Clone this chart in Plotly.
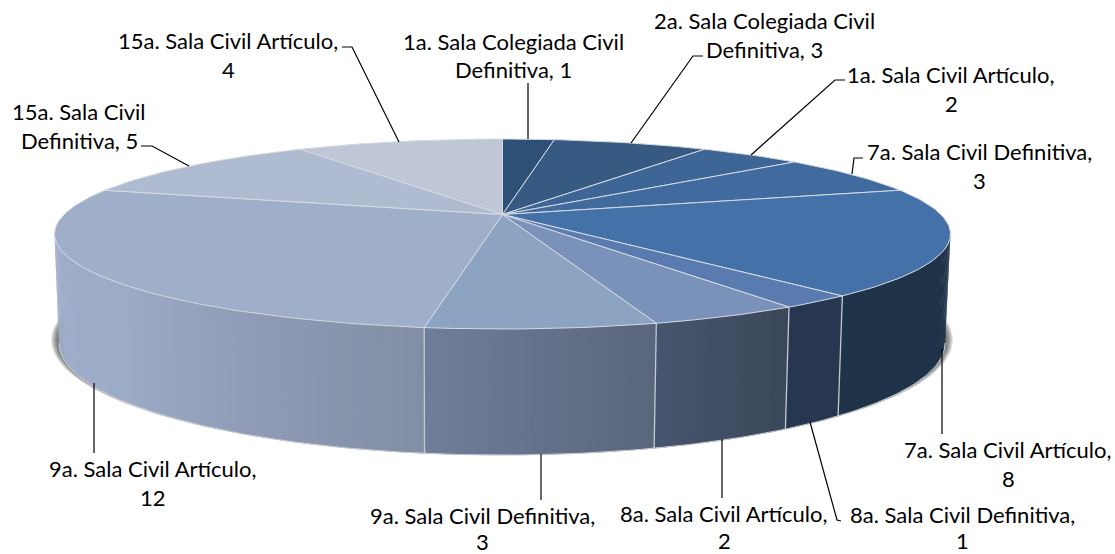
import math
import plotly.graph_objects as go

# ---- data ----
categories = ["1a. Sala Colegiada Civil Definitiva", "2a. Sala Colegiada Civil Definitiva",
              "1a. Sala Civil Artículo", "7a. Sala Civil Definitiva", "7a. Sala Civil Artículo",
              "8a. Sala Civil Definitiva", "8a. Sala Civil Artículo", "9a. Sala Civil Definitiva",
              "9a. Sala Civil Artículo", "15a. Sala Civil Definitiva", "15a. Sala Civil Artículo"]
values = [1, 3, 2, 3, 8, 1, 2, 3, 12, 5, 4]

top_colors = ["#2E5077", "#375A83", "#3D6595", "#416B9E", "#4472A8", "#5A7BB0",
              "#7A92BA", "#8DA3C2", "#9FAFCA", "#AFBBD0", "#BFC7D6"]
# wall shading stops, along each slice in clockwise order
wall_stops = [["#1C2F45"], ["#1C2F45"], ["#1C2F45"], ["#1E3349"], ["#1F3449"], ["#26374F"],
              ["#3B475A", "#47566F"], ["#5A667C", "#707E9A"],
              ["#828EA6", "#909CB6", "#9CABC6", "#9FADC9", "#9FADC9", "#9FADC9"],
              ["#AFBBD0"], ["#BFC7D6"]]

# label text lines, anchor centre x, and y of each line
label_lines = [["1a. Sala Colegiada Civil", "Definitiva, 1"], ["2a. Sala Colegiada Civil", "Definitiva, 3"],
               ["1a. Sala Civil Artículo,", "2"], ["7a. Sala Civil Definitiva,", "3"],
               ["7a. Sala Civil Artículo,", "8"], ["8a. Sala Civil Definitiva,", "1"],
               ["8a. Sala Civil Artículo,", "2"], ["9a. Sala Civil Definitiva,", "3"],
               ["9a. Sala Civil Artículo,", "12"], ["15a. Sala Civil", "Definitiva, 5"],
               ["15a. Sala Civil Artículo,", "4"]]
label_x = [513, 764, 951, 979, 1008, 962, 724, 482, 153, 79, 228]
label_y = [(41, 69), (20, 49), (74, 103), (151, 180), (449, 478), (514, 540),
           (513, 540), (515, 541), (468, 497), (111, 140), (40, 69)]
leaders = [[(528, 83), (528, 139)], [(703, 56), (693, 56), (631, 143)], [(845, 80), (835, 80), (751, 155)],
           [(863, 158), (854, 158), (852, 174)], [(942, 349), (942, 434)],
           [(810, 422), (837, 520), (841, 521)], [(722, 439), (722, 498)], [(541, 454), (541, 500)],
           [(94, 383), (94, 453)], [(141, 146), (152, 146), (189, 166)], [(342, 47), (352, 47), (399, 142)]]

# ---- projection of the disc (perspective tilt) ----
K = 0.2054
TOP = dict(cx=502.5, cy=214.5, f=438.4, g=91)
BOT = dict(cx=502, cy=320, f=433.6, g=107.3)
FRONT0 = math.acos(-K)
FRONT1 = 2 * math.pi - FRONT0


def project(theta, p, r=1.0):
    X, Y = r * math.sin(theta), r * math.cos(theta)
    w = 1 + K * Y
    return p["cx"] + p["f"] * X / w, p["cy"] - p["g"] * Y / w


def hex2rgb(h):
    return tuple(int(h[i:i + 2], 16) for i in (1, 3, 5))


def mix(stops, t):
    if len(stops) == 1:
        return stops[0]
    s = t * (len(stops) - 1)
    i = min(int(s), len(stops) - 2)
    a, b = hex2rgb(stops[i]), hex2rgb(stops[i + 1])
    u = s - i
    return "rgb(%d,%d,%d)" % tuple(round(a[j] + (b[j] - a[j]) * u) for j in range(3))


total = sum(values)
cum = [0]
for v in values:
    cum.append(cum[-1] + v)
ang = [c / total * 2 * math.pi for c in cum]

fig = go.Figure()


def poly(xs, ys, fill, line=None, width=0.0):
    fig.add_trace(go.Scatter(x=xs, y=ys, mode="lines", fill="toself", fillcolor=fill,
                             line=dict(color=line or fill, width=width), hoverinfo="skip", showlegend=False))


def stroke(xs, ys, color, width):
    fig.add_trace(go.Scatter(x=xs, y=ys, mode="lines", line=dict(color=color, width=width),
                             hoverinfo="skip", showlegend=False))


# soft shadow beneath the disc
N = 180
for i in range(8):
    grow = 8 - i
    sx = [502 + (443 + grow) * math.cos(2 * math.pi * j / N) for j in range(N + 1)]
    sy = [340 + (114 + grow * 0.2) * math.sin(2 * math.pi * j / N) for j in range(N + 1)]
    poly(sx, sy, "rgba(50,50,50,0.13)")

# side wall, as thin shaded overlapping strips (front part only)
for a0, a1, stops in zip(ang[:-1], ang[1:], wall_stops):
    lo, hi = max(a0, FRONT0), min(a1, FRONT1)
    if lo >= hi:
        continue
    n = max(2, int((hi - lo) / math.radians(0.7)))
    for j in range(n):
        t0 = lo + (hi - lo) * j / n
        t1 = min(hi, lo + (hi - lo) * (j + 1.6) / n)
        p0, p1 = project(t0, TOP), project(t1, TOP)
        q0, q1 = project(t0, BOT), project(t1, BOT)
        u = (t0 - a0) / (a1 - a0)
        poly([p0[0], p1[0], q1[0], q0[0], p0[0]], [p0[1], p1[1], q1[1], q0[1], p0[1]], mix(stops, u))

# bottom rim and wall separators
rim = [FRONT0 + (FRONT1 - FRONT0) * j / 200 for j in range(201)]
stroke([project(t, BOT)[0] for t in rim], [project(t, BOT)[1] for t in rim], "#C9CED6", 1)
for a in ang:
    if FRONT0 < a < FRONT1:
        p, q = project(a, TOP), project(a, BOT)
        stroke([p[0], q[0]], [p[1], q[1]], "#C3C9D3", 1.3)

# top face
for a0, a1, col in zip(ang[:-1], ang[1:], top_colors):
    n = max(4, int((a1 - a0) / math.radians(1.0)))
    pts = [project(a0 + (a1 - a0) * j / n, TOP) for j in range(n + 1)]
    xs = [TOP["cx"]] + [p[0] for p in pts] + [TOP["cx"]]
    ys = [TOP["cy"]] + [p[1] for p in pts] + [TOP["cy"]]
    poly(xs, ys, col, "#D5DAE2", 1)

# leader lines
for pts in leaders:
    stroke([p[0] for p in pts], [p[1] for p in pts], "#000000", 1.2)

# labels
ann = []
for lines, x, ys in zip(label_lines, label_x, label_y):
    for line, y in zip(lines, ys):
        ann.append(dict(x=x, y=y, xref="x", yref="y", text=line, showarrow=False, xanchor="center",
                        yanchor="middle", font=dict(family="Lato", size=22, color="#000000")))

fig.update_layout(width=1115, height=554, margin=dict(l=0, r=0, t=0, b=0), paper_bgcolor="#FFFFFF",
                  plot_bgcolor="#FFFFFF", showlegend=False, annotations=ann,
                  xaxis=dict(range=[0, 1115], visible=False, fixedrange=True),
                  yaxis=dict(range=[554, 0], visible=False, fixedrange=True))

fig.write_html("out.html", config={"displayModeBar": False},
               post_script="document.body.style.margin='0';document.body.style.overflow='hidden';")
